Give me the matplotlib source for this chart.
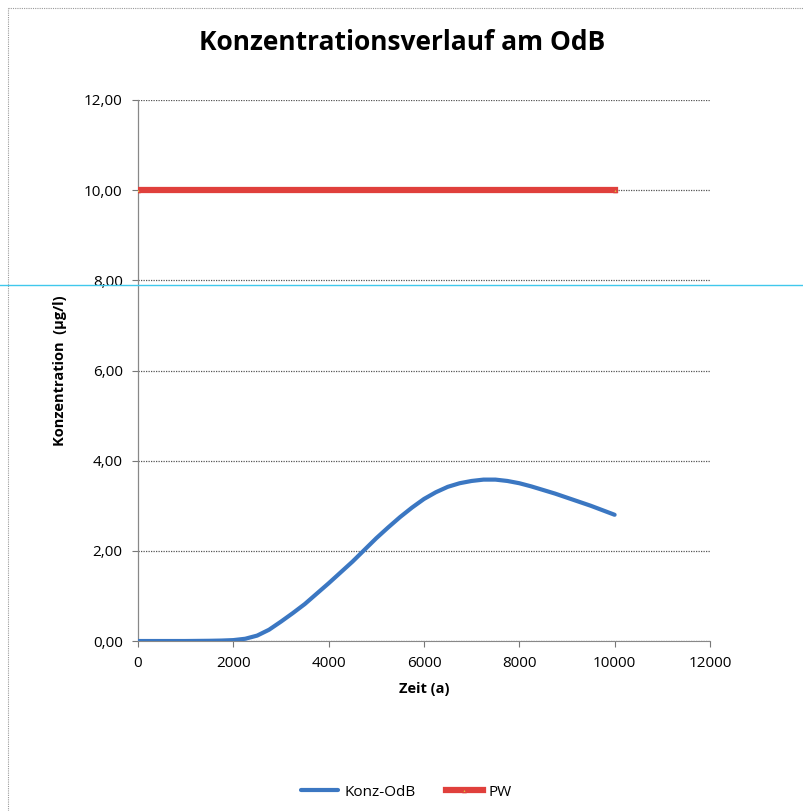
import matplotlib.pyplot as plt
from matplotlib.lines import Line2D

# data
zeit = [0, 500, 1000, 1500, 1750, 2000, 2250, 2500, 2750, 3000, 3250, 3500,
        3750, 4000, 4250, 4500, 4750, 5000, 5250, 5500, 5750, 6000, 6250,
        6500, 6750, 7000, 7250, 7500, 7750, 8000, 8250, 8500, 8750, 9000,
        9250, 9500, 9750, 10000]
konz_odb = [0.0, 0.0, 0.0, 0.005, 0.01, 0.02, 0.05, 0.12, 0.25, 0.43, 0.62, 0.82,
            1.05, 1.28, 1.52, 1.76, 2.02, 2.28, 2.52, 2.75, 2.96, 3.15, 3.30,
            3.42, 3.50, 3.55, 3.58, 3.58, 3.55, 3.50, 3.43, 3.35, 3.27, 3.18,
            3.09, 3.00, 2.90, 2.80]
pw_zeit = [0, 10000]
pw = [10.0, 10.0]

x_ticks = [0, 2000, 4000, 6000, 8000, 10000, 12000]
y_ticks = [0, 2, 4, 6, 8, 10, 12]

plt.rcParams['font.family'] = ['Open Sans', 'DejaVu Sans']

fig = plt.figure(figsize=(8.04, 8.11), dpi=100)
ax = fig.add_axes([0.1716, 0.2096, 0.7114, 0.6671])

ax.plot(zeit, konz_odb, color='#3b77c2', lw=3, solid_capstyle='round',
        solid_joinstyle='round', label='Konz-OdB', zorder=3)
ax.plot(pw_zeit, pw, color='#e0403c', lw=4.5, marker='^', markersize=3,
        markerfacecolor='#d8d040', markeredgecolor='#e0403c', label='PW', zorder=3)

ax.set_xlim(0, 12000)
ax.set_ylim(0, 12)
ax.set_xticks(x_ticks)
ax.set_yticks(y_ticks)
ax.set_yticklabels([f"{v:.2f}".replace('.', ',') for v in y_ticks])
ax.tick_params(axis='both', labelsize=11, length=4, color='#777777', pad=7)

ax.grid(axis='y', color='#555555', lw=0.9, ls=(0, (1, 1)))
for s in ['top', 'right']:
    ax.spines[s].set_visible(False)
ax.spines['left'].set_color('#888888')
ax.spines['bottom'].set_color('#888888')
ax.spines['bottom'].set_linestyle((0, (1, 1)))
ax.spines['left'].set_linewidth(0.9)

ax.set_xlabel('Zeit (a)', fontsize=10.5, fontweight='bold', labelpad=8)
ax.set_ylabel('Konzentration  (µg/l)', fontsize=10.5, fontweight='bold', labelpad=12)

fig.text(0.5, 0.948, 'Konzentrationsverlauf am OdB', ha='center', va='center',
         fontsize=19, fontweight='bold')

ax.legend(loc='upper center', bbox_to_anchor=(0.47, -0.24), ncol=2, frameon=False,
          fontsize=11, handlelength=2.4, handletextpad=0.4, columnspacing=2.0)

# outer chart frame and scan guide line
fig.add_artist(Line2D([0.01, 1.0], [0.99, 0.99], color='#999999', lw=0.8, ls=(0, (1, 1))))
fig.add_artist(Line2D([0.01, 0.01], [0.0, 0.99], color='#999999', lw=0.8, ls=(0, (1, 1))))
fig.add_artist(Line2D([0.0, 1.0], [1 - 285 / 811, 1 - 285 / 811], color='#40c8ec', lw=1.0))

fig.savefig('out.png', dpi=100)
